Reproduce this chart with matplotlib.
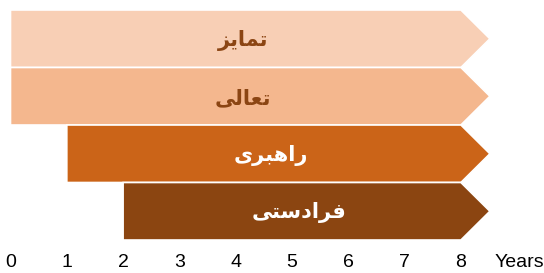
import matplotlib.pyplot as plt
from matplotlib.patches import Polygon

# Data
labels = ['تمایز', 'تعالی', 'راهبری', 'فرادستی']
starts = [0, 0, 1, 2]
ends = [8, 8, 8, 8]
years = [0, 1, 2, 3, 4, 5, 6, 7, 8]

bar_colors = ['#F8CFB5', '#F4B78E', '#CB6418', '#8B4511']
text_colors = ['#8B4513', '#8B4513', 'white', 'white']

# minimal arabic shaping (matplotlib has no complex text layout)
# letter: (isolated, final, initial, medial) ; None -> right joining only
FORMS = {
    'ا': ('\uFE8D', '\uFE8E', None, None),
    'ب': ('\uFE8F', '\uFE90', '\uFE91', '\uFE92'),
    'ت': ('\uFE95', '\uFE96', '\uFE97', '\uFE98'),
    'د': ('\uFEA9', '\uFEAA', None, None),
    'ر': ('\uFEAD', '\uFEAE', None, None),
    'ز': ('\uFEAF', '\uFEB0', None, None),
    'س': ('\uFEB1', '\uFEB2', '\uFEB3', '\uFEB4'),
    'ع': ('\uFEC9', '\uFECA', '\uFECB', '\uFECC'),
    'ف': ('\uFED1', '\uFED2', '\uFED3', '\uFED4'),
    'ل': ('\uFEDD', '\uFEDE', '\uFEDF', '\uFEE0'),
    'م': ('\uFEE1', '\uFEE2', '\uFEE3', '\uFEE4'),
    'ه': ('\uFEE9', '\uFEEA', '\uFEEB', '\uFEEC'),
    'ی': ('\uFEEF', '\uFEF0', '\uFEF3', '\uFEF4'),
}

def shape(word):
    out = []
    n = len(word)
    for i, ch in enumerate(word):
        f = FORMS.get(ch)
        if f is None:
            out.append(ch)
            continue
        prev_joins = i > 0 and word[i - 1] in FORMS and FORMS[word[i - 1]][2] is not None
        next_exists = i < n - 1 and word[i + 1] in FORMS
        can_join_next = f[2] is not None and next_exists
        if prev_joins and can_join_next:
            out.append(f[3])
        elif prev_joins:
            out.append(f[1])
        elif can_join_next:
            out.append(f[2])
        else:
            out.append(f[0])
    return ''.join(reversed(out))

plt.rcParams['font.family'] = ['Liberation Sans', 'DejaVu Sans']

fig = plt.figure(figsize=(5.44, 2.73), dpi=100)
ax = fig.add_axes([0, 33 / 273, 1, 230 / 273])

tip = 0.515
h = 1.0
for i in range(len(labels)):
    y = i
    s, e = starts[i], ends[i]
    pts = [(s, y - h / 2), (e, y - h / 2), (e + tip, y), (e, y + h / 2), (s, y + h / 2)]
    ax.add_patch(Polygon(pts, closed=True, facecolor=bar_colors[i],
                         edgecolor='white', linewidth=1.2))
    ax.text((s + e + tip / 2) / 2, y + 0.03, shape(labels[i]), ha='center', va='center',
            fontsize=15, fontweight='bold', color=text_colors[i], family='DejaVu Sans')

ax.set_xlim(-10.5 / 56.3, (544 - 10.5) / 56.3)
ax.set_ylim(3.5, -0.5)
ax.set_xticks(years)
ax.set_xticklabels([str(v) for v in years])
ax.tick_params(axis='x', length=0, pad=10, labelsize=14)
ax.set_yticks([])
for sp in ax.spines.values():
    sp.set_visible(False)

ax.text(8.6, -14 / 230, 'Years', transform=ax.get_xaxis_transform(),
        ha='left', va='top', fontsize=14)

fig.savefig('out.png', dpi=100)
